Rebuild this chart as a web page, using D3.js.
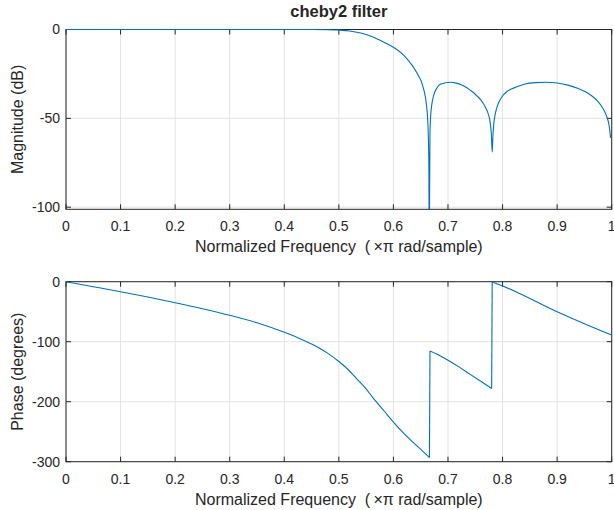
<!DOCTYPE html>
<html>
<head>
<meta charset="utf-8">
<script src="https://cdn.jsdelivr.net/npm/d3@7/dist/d3.min.js"></script>
<style>
  html, body { margin: 0; padding: 0; background: #fff; }
  svg { display: block; }
  text { font-family: "Liberation Sans", Arial, Helvetica, sans-serif; fill: #262626; }
</style>
</head>
<body>
<svg id="chart" width="614" height="510"></svg>
<script>
// ---- Data ----
const titleText = "cheby2 filter";
const xLabelText = "Normalized Frequency  (\u2009\u00D7\u03C0 rad/sample)";
const magLabelText = "Magnitude (dB)";
const phaseLabelText = "Phase (degrees)";

const xTicks = [0, 0.1, 0.2, 0.3, 0.4, 0.5, 0.6, 0.7, 0.8, 0.9, 1];
const xTickLabels = ["0", "0.1", "0.2", "0.3", "0.4", "0.5", "0.6", "0.7", "0.8", "0.9", "1"];
const magTicks = [0, -50, -100];
const phaseTicks = [0, -100, -200, -300];
const magDomain = [-101.2, 0];
const phaseDomain = [-300, 0];

const magFreq = [0, 0.1, 0.2, 0.3, 0.4, 0.45, 0.48, 0.50, 0.52, 0.54, 0.56, 0.58, 0.60, 0.62, 0.635, 0.645,
  0.652, 0.657, 0.660, 0.663, 0.664, 0.665, 0.6655, 0.667, 0.668, 0.670, 0.673, 0.676, 0.680, 0.685, 0.695,
  0.705, 0.715, 0.725, 0.733, 0.740, 0.747, 0.754, 0.760, 0.765, 0.769, 0.773, 0.776, 0.778, 0.7795, 0.781,
  0.7825, 0.784, 0.786, 0.789, 0.792, 0.796, 0.801, 0.807, 0.814, 0.820, 0.830, 0.840, 0.860, 0.880,
  0.900, 0.920, 0.940, 0.955, 0.965, 0.975, 0.982, 0.988, 0.992, 0.995, 0.998];
const magDb = [0, 0, 0, 0, 0, -0.02, -0.1, -0.3, -0.8, -2.0, -4.0, -6.8, -10.0, -14.8, -20.5, -25.5,
  -30, -35.5, -41, -52, -60, -78, -130, -58, -50, -43, -38, -35, -32.8, -31, -30,
  -29.7, -30.2, -31.2, -32.5, -34, -35.6, -37.6, -39.6, -41.8, -44, -46.8, -50, -54, -59, -69,
  -59, -53, -48.5, -44.5, -41.8, -39.3, -37, -35.2, -33.8, -33, -31.8, -30.8, -29.9, -29.7,
  -30.1, -31.3, -33.4, -35.6, -37.7, -40.6, -43.5, -46.8, -50, -53.5, -61];

const phaseFreq = [0, 0.05, 0.1, 0.15, 0.2, 0.25, 0.3, 0.35, 0.4, 0.43, 0.459, 0.48, 0.5,
  0.516, 0.532, 0.548, 0.563, 0.583, 0.602, 0.62, 0.637, 0.652, 0.666, 0.667, 0.68, 0.70, 0.72,
  0.74, 0.76, 0.780, 0.781, 0.80, 0.85, 0.90, 0.95, 1.0];
const phaseDeg = [0, -8.3, -16.7, -25.5, -35, -45, -56, -68.5, -84.4, -95.5, -108, -119.5, -133,
  -145.5, -161, -176.5, -194, -215.5, -236, -253.5, -268.5, -281, -293, -115.5, -121, -131, -142,
  -154, -166, -178, -0.5, -7, -28, -50, -70, -89];

// ---- Layout ----
const svg = d3.select("#chart");
const left = 66, right = 611.7;
const panels = [
  { top: 29.5, bottom: 209.3, domain: magDomain, ticks: magTicks, fx: magFreq, fy: magDb, ylabel: magLabelText, title: titleText, jump: 1e9 },
  { top: 281.7, bottom: 461.7, domain: phaseDomain, ticks: phaseTicks, fx: phaseFreq, fy: phaseDeg, ylabel: phaseLabelText, title: null, jump: 100 }
];
const axisColor = "#262626";
const gridColor = "#e3e3e3";
const lineColor = "#0072BD";
const tickLen = 5;

panels.forEach((p, i) => {
  const x = d3.scaleLinear().domain([0, 1]).range([left, right]);
  const y = d3.scaleLinear().domain(p.domain).range([p.bottom, p.top]);
  const g = svg.append("g");

  // grid
  g.selectAll(".gx").data(xTicks).enter().append("line")
    .attr("x1", d => x(d)).attr("x2", d => x(d))
    .attr("y1", p.top).attr("y2", p.bottom)
    .attr("stroke", gridColor).attr("stroke-width", 1);
  g.selectAll(".gy").data(p.ticks).enter().append("line")
    .attr("x1", left).attr("x2", right)
    .attr("y1", d => y(d)).attr("y2", d => y(d))
    .attr("stroke", gridColor).attr("stroke-width", 1);

  // box
  g.append("rect").attr("x", left).attr("y", p.top)
    .attr("width", right - left).attr("height", p.bottom - p.top)
    .attr("fill", "none").attr("stroke", axisColor).attr("stroke-width", 1);

  // ticks (inside, all four sides)
  xTicks.forEach(t => {
    g.append("line").attr("x1", x(t)).attr("x2", x(t)).attr("y1", p.bottom).attr("y2", p.bottom - tickLen)
      .attr("stroke", axisColor);
    g.append("line").attr("x1", x(t)).attr("x2", x(t)).attr("y1", p.top).attr("y2", p.top + tickLen)
      .attr("stroke", axisColor);
  });
  p.ticks.forEach(t => {
    g.append("line").attr("x1", left).attr("x2", left + tickLen).attr("y1", y(t)).attr("y2", y(t))
      .attr("stroke", axisColor);
    g.append("line").attr("x1", right).attr("x2", right - tickLen).attr("y1", y(t)).attr("y2", y(t))
      .attr("stroke", axisColor);
  });

  // tick labels
  g.selectAll(".xl").data(xTicks).enter().append("text")
    .attr("x", d => x(d)).attr("y", p.bottom + 22)
    .attr("text-anchor", "middle").attr("font-size", 14)
    .text((d, k) => xTickLabels[k]);
  g.selectAll(".yl").data(p.ticks).enter().append("text")
    .attr("x", left - 6).attr("y", d => y(d)).attr("dy", "0.35em")
    .attr("text-anchor", "end").attr("font-size", 14)
    .text(d => String(d));

  // axis labels
  g.append("text").attr("x", (left + right) / 2).attr("y", p.bottom + 43)
    .attr("text-anchor", "middle").attr("font-size", 16)
    .style("white-space", "pre")
    .text(xLabelText);
  g.append("text")
    .attr("transform", `translate(23,${(p.top + p.bottom) / 2}) rotate(-90)`)
    .attr("text-anchor", "middle").attr("font-size", 16)
    .text(p.ylabel);

  if (p.title) {
    g.append("text").attr("x", (left + right) / 2).attr("y", 17)
      .attr("text-anchor", "middle").attr("font-size", 16.5).attr("font-weight", "bold")
      .text(p.title);
  }

  // clip + data line (smooth within continuous runs, straight across phase jumps)
  const cid = "clip" + i;
  svg.append("clipPath").attr("id", cid).append("rect")
    .attr("x", left).attr("y", p.top - 1).attr("width", right - left + 1).attr("height", p.bottom - p.top + 1);
  const pts = p.fx.map((f, k) => [f, p.fy[k]]);
  const runs = [[pts[0]]];
  const jumps = [];
  for (let k = 1; k < pts.length; k++) {
    if (Math.abs(pts[k][1] - pts[k - 1][1]) > p.jump) {
      jumps.push([pts[k - 1], pts[k]]);
      runs.push([pts[k]]);
    } else {
      runs[runs.length - 1].push(pts[k]);
    }
  }
  const smooth = d3.line().curve(d3.curveMonotoneX).x(d => x(d[0])).y(d => y(d[1]));
  const straight = d3.line().x(d => x(d[0])).y(d => y(d[1]));
  const lg = g.append("g").attr("clip-path", `url(#${cid})`)
    .attr("fill", "none").attr("stroke", lineColor).attr("stroke-width", 1.1)
    .attr("stroke-linejoin", "round");
  runs.forEach(r => lg.append("path").attr("d", smooth(r)));
  jumps.forEach(j => lg.append("path").attr("d", straight(j)));
});
</script>
</body>
</html>
